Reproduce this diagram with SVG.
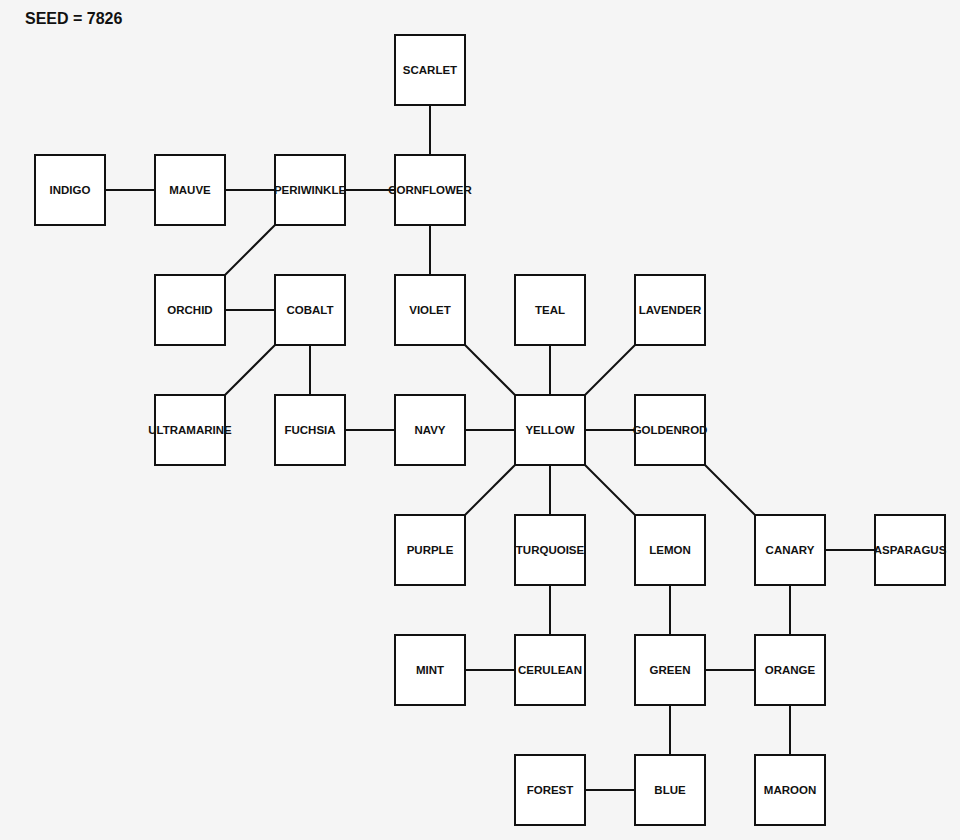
<svg xmlns="http://www.w3.org/2000/svg" width="960" height="840" viewBox="0 0 960 840">
<style>
.n rect{fill:#fff;stroke:#111;stroke-width:2}
.n text{font-family:"Liberation Sans",Arial,sans-serif;font-weight:bold;font-size:11.5px;fill:#111;text-anchor:middle;dominant-baseline:central}
#edges line{stroke:#111;stroke-width:2}
</style>
<rect width="960" height="840" fill="#f5f5f5"/>
<text x="25" y="24" font-family="Liberation Sans,Arial,sans-serif" font-weight="bold" font-size="16" fill="#111">SEED = 7826</text>
<g id="edges">
<line x1="430" y1="105" x2="430" y2="155"/>
<line x1="105" y1="190" x2="155" y2="190"/>
<line x1="225" y1="190" x2="275" y2="190"/>
<line x1="345" y1="190" x2="395" y2="190"/>
<line x1="275" y1="225" x2="225" y2="275"/>
<line x1="430" y1="225" x2="430" y2="275"/>
<line x1="225" y1="310" x2="275" y2="310"/>
<line x1="275" y1="345" x2="225" y2="395"/>
<line x1="310" y1="345" x2="310" y2="395"/>
<line x1="345" y1="430" x2="395" y2="430"/>
<line x1="465" y1="430" x2="515" y2="430"/>
<line x1="465" y1="345" x2="515" y2="395"/>
<line x1="550" y1="345" x2="550" y2="395"/>
<line x1="635" y1="345" x2="585" y2="395"/>
<line x1="585" y1="430" x2="635" y2="430"/>
<line x1="515" y1="465" x2="465" y2="515"/>
<line x1="550" y1="465" x2="550" y2="515"/>
<line x1="585" y1="465" x2="635" y2="515"/>
<line x1="705" y1="465" x2="755" y2="515"/>
<line x1="825" y1="550" x2="875" y2="550"/>
<line x1="790" y1="585" x2="790" y2="635"/>
<line x1="550" y1="585" x2="550" y2="635"/>
<line x1="465" y1="670" x2="515" y2="670"/>
<line x1="670" y1="585" x2="670" y2="635"/>
<line x1="705" y1="670" x2="755" y2="670"/>
<line x1="670" y1="705" x2="670" y2="755"/>
<line x1="790" y1="705" x2="790" y2="755"/>
<line x1="585" y1="790" x2="635" y2="790"/>
</g>
<g id="scarlet" class="n"><rect x="395" y="35" width="70" height="70"/><text x="430" y="70">SCARLET</text></g>
<g id="indigo" class="n"><rect x="35" y="155" width="70" height="70"/><text x="70" y="190">INDIGO</text></g>
<g id="mauve" class="n"><rect x="155" y="155" width="70" height="70"/><text x="190" y="190">MAUVE</text></g>
<g id="periwinkle" class="n"><rect x="275" y="155" width="70" height="70"/><text x="310" y="190">PERIWINKLE</text></g>
<g id="cornflower" class="n"><rect x="395" y="155" width="70" height="70"/><text x="430" y="190">CORNFLOWER</text></g>
<g id="orchid" class="n"><rect x="155" y="275" width="70" height="70"/><text x="190" y="310">ORCHID</text></g>
<g id="cobalt" class="n"><rect x="275" y="275" width="70" height="70"/><text x="310" y="310">COBALT</text></g>
<g id="violet" class="n"><rect x="395" y="275" width="70" height="70"/><text x="430" y="310">VIOLET</text></g>
<g id="teal" class="n"><rect x="515" y="275" width="70" height="70"/><text x="550" y="310">TEAL</text></g>
<g id="lavender" class="n"><rect x="635" y="275" width="70" height="70"/><text x="670" y="310">LAVENDER</text></g>
<g id="ultramarine" class="n"><rect x="155" y="395" width="70" height="70"/><text x="190" y="430">ULTRAMARINE</text></g>
<g id="fuchsia" class="n"><rect x="275" y="395" width="70" height="70"/><text x="310" y="430">FUCHSIA</text></g>
<g id="navy" class="n"><rect x="395" y="395" width="70" height="70"/><text x="430" y="430">NAVY</text></g>
<g id="yellow" class="n"><rect x="515" y="395" width="70" height="70"/><text x="550" y="430">YELLOW</text></g>
<g id="goldenrod" class="n"><rect x="635" y="395" width="70" height="70"/><text x="670" y="430">GOLDENROD</text></g>
<g id="purple" class="n"><rect x="395" y="515" width="70" height="70"/><text x="430" y="550">PURPLE</text></g>
<g id="turquoise" class="n"><rect x="515" y="515" width="70" height="70"/><text x="550" y="550">TURQUOISE</text></g>
<g id="lemon" class="n"><rect x="635" y="515" width="70" height="70"/><text x="670" y="550">LEMON</text></g>
<g id="canary" class="n"><rect x="755" y="515" width="70" height="70"/><text x="790" y="550">CANARY</text></g>
<g id="asparagus" class="n"><rect x="875" y="515" width="70" height="70"/><text x="910" y="550">ASPARAGUS</text></g>
<g id="mint" class="n"><rect x="395" y="635" width="70" height="70"/><text x="430" y="670">MINT</text></g>
<g id="cerulean" class="n"><rect x="515" y="635" width="70" height="70"/><text x="550" y="670">CERULEAN</text></g>
<g id="green" class="n"><rect x="635" y="635" width="70" height="70"/><text x="670" y="670">GREEN</text></g>
<g id="orange" class="n"><rect x="755" y="635" width="70" height="70"/><text x="790" y="670">ORANGE</text></g>
<g id="forest" class="n"><rect x="515" y="755" width="70" height="70"/><text x="550" y="790">FOREST</text></g>
<g id="blue" class="n"><rect x="635" y="755" width="70" height="70"/><text x="670" y="790">BLUE</text></g>
<g id="maroon" class="n"><rect x="755" y="755" width="70" height="70"/><text x="790" y="790">MAROON</text></g>
</svg>
